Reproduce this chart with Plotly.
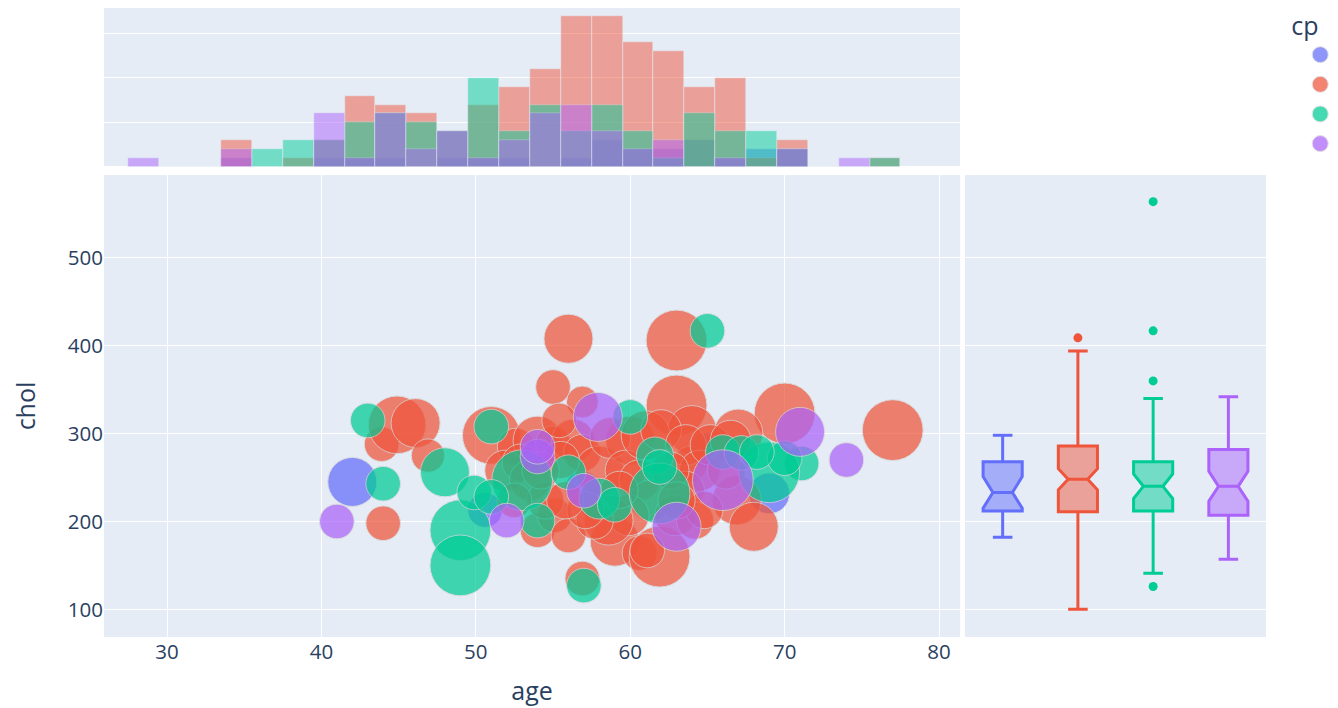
import plotly.graph_objects as go

# chest pain type groups, in the order they appear in the data
cp_names = ["1", "4", "3", "2"]
cp_colors = ["#636efa", "#EF553B", "#00cc96", "#ab63fa"]

# scatter points (only the visible bubbles)
age = [42, 50.6, 65, 69, 56.9,
       43.9, 44.9, 46.1, 46.9, 44.0, 51.0, 52.6, 56.0, 55.0, 56.9, 54.0, 55.0, 56.3, 56.9,
       54.0, 55.1, 56.0, 58.0, 59.0, 56.9, 60.6, 63.0, 63.0, 64.0, 70.0, 77.0, 67.0, 66.9,
       68.0, 61.9, 61.1, 60.0, 63.9, 51.9, 52.9, 53.5, 54.5, 55.5, 58.7, 59.7, 61.0, 62.0,
       60.6, 61.3, 59.9, 58.6, 57.7, 59.3, 63.6, 64.5, 63.6, 62.9, 64.2, 65.2, 66.5, 64.8,
       62.6, 63.0, 57.1, 55.8, 54.2, 52.5, 55.4, 66.2, 61.6,
       43.0, 48.0, 44.0, 49.0, 49.0, 51.0, 53.0, 49.9, 51.0, 54.0, 56.0, 58.0, 59.0, 57.0,
       60.0, 65.0, 71.1, 69.0, 70.0, 66.0, 67.2, 68.2, 61.9, 61.9, 54.0,
       41.0, 54.0, 52.0, 57.9, 57.0, 71.0, 74.0, 66.0, 63.0, 61.9]
chol = [245, 213, 281, 232, 238,
        288, 310, 312, 275, 198, 298, 285, 408, 353, 336, 292, 289, 292, 278,
        190, 207, 184, 258, 177, 135, 164, 406, 332, 304, 323, 304, 300, 224,
        194, 160, 167, 292, 266, 258, 267, 247, 224, 270, 295, 258, 298, 304,
        247, 224, 207, 201, 201, 236, 287, 258, 236, 207, 201, 287, 292, 213,
        258, 224, 213, 224, 258, 224, 315, 258, 275,
        315, 256, 243, 190, 150, 308, 247, 233, 228, 201, 256, 226, 219, 127,
        319, 417, 266, 256, 272, 279, 278, 279, 232, 262, 274,
        200, 285, 201, 319, 235, 302, 270, 247, 194, 283]
oldpeak = [2.6, 1.3, 1.3, 1.8, 1.3,
           1.3, 3.6, 2.6, 1.2, 1.3, 3.6, 1.5, 2.6, 1.3, 1.1, 2.6, 1.3, 2.0, 1.5,
           1.3, 1.3, 1.3, 2.6, 2.6, 1.3, 1.3, 4.0, 4.0, 2.6, 4.0, 4.0, 2.6, 2.6,
           2.6, 4.0, 1.3, 2.6, 1.3, 1.8, 1.5, 1.8, 1.5, 1.5, 1.8, 1.8, 2.6, 1.8,
           1.8, 1.8, 1.8, 2.6, 1.5, 1.5, 1.8, 1.8, 1.5, 1.8, 1.5, 1.8, 1.8, 1.5,
           1.5, 1.5, 1.5, 1.5, 1.5, 1.3, 1.3, 1.5, 1.5,
           1.3, 2.6, 1.3, 4.0, 4.0, 1.3, 4.0, 1.3, 1.3, 1.3, 1.3, 1.8, 1.3, 1.3,
           1.3, 1.3, 1.3, 4.0, 1.3, 1.3, 1.3, 1.3, 4.0, 1.3, 1.3,
           1.3, 1.3, 1.3, 2.6, 1.3, 2.6, 1.3, 4.0, 2.6, 1.3]
cp = ["1"] * 5 + ["4"] * 64 + ["3"] * 25 + ["2"] * 10

# age histogram, 2-year bins
bin_centers = [28.5, 30.5, 32.5, 34.5, 36.5, 38.5, 40.5, 42.5, 44.5, 46.5, 48.5, 50.5, 52.5,
               54.5, 56.5, 58.5, 60.5, 62.5, 64.5, 66.5, 68.5, 70.5, 72.5, 74.5, 76.5]
hist_cp1 = [0, 0, 0, 1, 0, 0, 1, 1, 1, 0, 1, 1, 1, 0, 1, 3, 2, 2, 3, 1, 2, 2, 0, 0, 0]
hist_cp4 = [0, 0, 0, 3, 0, 1, 3, 8, 7, 6, 4, 7, 9, 11, 17, 17, 14, 13, 9, 10, 1, 3, 0, 0, 1]
hist_cp3 = [0, 0, 0, 0, 2, 3, 3, 5, 6, 5, 4, 10, 4, 7, 4, 7, 4, 1, 6, 4, 4, 2, 0, 0, 1]
hist_cp2 = [1, 0, 0, 2, 0, 0, 6, 1, 6, 2, 4, 1, 3, 6, 7, 4, 2, 3, 0, 1, 0, 2, 0, 1, 0]
hist_counts = [hist_cp1, hist_cp4, hist_cp3, hist_cp2]

# cholesterol box plots (precomputed)
box_lowerfence = [182, 100, 141, 157]
box_q1 = [212, 211, 212, 207]
box_median = [233, 248, 240, 240]
box_q3 = [268, 286, 268, 282]
box_upperfence = [298, 394, 340, 342]
box_notchspan = [18, 12, 14, 17]
outlier_cp = ["4", "3", "3", "3", "3"]
outlier_chol = [409, 564, 417, 360, 126]

size_max = 43
sizeref = max(oldpeak) / size_max ** 2
bubble_line = dict(color="#d6d6d6", width=1)

fig = go.Figure()

for i, name in enumerate(cp_names):
    idx = [k for k, c in enumerate(cp) if c == name]
    fig.add_trace(go.Scatter(
        x=[age[k] for k in idx],
        y=[chol[k] for k in idx],
        mode="markers",
        name=name,
        legendgroup=name,
        showlegend=False,
        marker=dict(
            color=cp_colors[i],
            size=[oldpeak[k] for k in idx],
            sizemode="area",
            sizeref=sizeref,
            opacity=0.72,
            line=bubble_line,
        ),
        xaxis="x", yaxis="y",
    ))

# legend entries (fixed-size symbols)
for i, name in enumerate(cp_names):
    fig.add_trace(go.Scatter(
        x=[None], y=[None], mode="markers", name=name, legendgroup=name,
        marker=dict(color=cp_colors[i], size=16, opacity=0.72, line=bubble_line),
        xaxis="x", yaxis="y",
    ))

for i, name in enumerate(cp_names):
    fig.add_trace(go.Bar(
        x=bin_centers,
        y=hist_counts[i],
        width=2,
        name=name,
        legendgroup=name,
        showlegend=False,
        opacity=0.5,
        marker=dict(color=cp_colors[i], line=dict(color="#E5ECF6", width=0.5)),
        xaxis="x3", yaxis="y3",
    ))

for i, name in enumerate(cp_names):
    fig.add_trace(go.Box(
        x=[name],
        q1=[box_q1[i]],
        median=[box_median[i]],
        q3=[box_q3[i]],
        lowerfence=[box_lowerfence[i]],
        upperfence=[box_upperfence[i]],
        notchspan=[box_notchspan[i]],
        notched=True,
        name=name,
        legendgroup=name,
        showlegend=False,
        width=0.52,
        line=dict(color=cp_colors[i], width=3),
        marker=dict(color=cp_colors[i]),
        xaxis="x2", yaxis="y2",
    ))
    ox = [c for c in outlier_cp if c == name]
    oy = [v for c, v in zip(outlier_cp, outlier_chol) if c == name]
    if ox:
        fig.add_trace(go.Scatter(
            x=ox, y=oy, mode="markers",
            marker=dict(color=cp_colors[i], size=9),
            showlegend=False, legendgroup=name,
            xaxis="x2", yaxis="y2",
        ))

fig.update_layout(
    template="plotly",
    width=1338,
    height=708,
    font=dict(size=20.5),
    margin=dict(l=96, r=80, t=0, b=79, autoexpand=False),
    barmode="overlay",
    bargap=0,
    boxmode="overlay",
    legend=dict(title=dict(text="cp"), x=1.02, y=1.009, xanchor="left", yanchor="top",
                tracegroupgap=0, itemwidth=52),
    xaxis=dict(domain=[0, 0.7367], range=[25.92, 81.36], dtick=10,
               title=dict(text="age", standoff=18)),
    yaxis=dict(domain=[0, 0.7344], range=[68.5, 594.3], dtick=100,
               title=dict(text="chol", standoff=28)),
    xaxis2=dict(domain=[0.741, 1], anchor="y2", type="category",
                categoryorder="array", categoryarray=cp_names,
                range=[-0.5, 3.5], showticklabels=False, showgrid=False),
    yaxis2=dict(domain=[0, 0.7344], anchor="x2", matches="y", showticklabels=False),
    xaxis3=dict(domain=[0, 0.7367], anchor="y3", matches="x", showticklabels=False),
    yaxis3=dict(domain=[0.7476, 1], anchor="x3", range=[0, 17.85], dtick=5,
                showticklabels=False),
)

fig.write_html("out.html")
